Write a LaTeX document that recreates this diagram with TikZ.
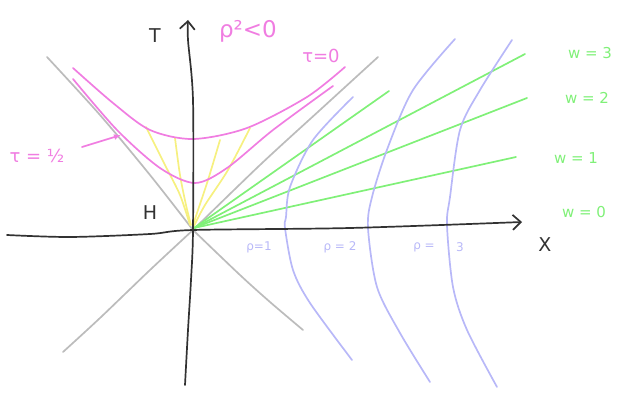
\documentclass[tikz,border=0pt]{standalone}
\usepackage{fontspec}
\setmainfont{DejaVu Sans}
\usetikzlibrary{arrows.meta}
\definecolor{pk}{RGB}{240,125,225}
\definecolor{gn}{RGB}{128,240,120}
\definecolor{yl}{RGB}{246,240,128}
\definecolor{bl}{RGB}{184,184,248}
\definecolor{gy}{RGB}{188,188,188}
\definecolor{ax}{RGB}{50,50,50}
\tikzset{
  sk/.style={line width=1.7pt, line cap=round, line join=round},
  gyline/.style={sk, gy},
  ylline/.style={sk, yl},
  gnline/.style={sk, gn},
  blline/.style={sk, bl},
  pkline/.style={sk, pk},
  axline/.style={sk, ax, -{Straight Barb[length=8pt,width=15pt,line width=1.7pt]}},
  pklab/.style={pk, font=\fontsize{18}{18}\selectfont},
  gnlab/.style={gn, font=\fontsize{15}{15}\selectfont},
  bllab/.style={bl, font=\fontsize{12}{12}\selectfont},
  axlab/.style={ax, font=\fontsize{19}{19}\selectfont},
}
\begin{document}
\begin{tikzpicture}[x=1pt,y=-1pt]
\useasboundingbox (0,0) rectangle (624,393);
\coordinate (O) at (193,230);
% light cone
\draw[gyline] plot[smooth] coordinates {(47,57) (100,115) (150,175) (O)};
\draw[gyline] plot[smooth] coordinates {(O) (240,275) (270,302) (303,330)};
\draw[gyline] plot[smooth] coordinates {(O) (260,165) (320,110) (378,57)};
\draw[gyline] plot[smooth] coordinates {(O) (150,270) (100,318) (63,352)};
% yellow
\draw[ylline] plot[smooth] coordinates {(146,127) (165,165) (180,195) (190,225)};
\draw[ylline] plot[smooth] coordinates {(175,138) (180,175) (186,205) (191,225)};
\draw[ylline] plot[smooth] coordinates {(220,140) (208,180) (198,210) (193,225)};
\draw[ylline] plot[smooth] coordinates {(250,128) (228,170) (205,205) (194,226)};
% green
\coordinate (G) at (194,228);
\coordinate (g1) at (389,91);
\coordinate (g2) at (525,54);
\coordinate (g3) at (527,98);
\coordinate (g4) at (516,157);
\draw[gnline] (G) -- (g1);
\draw[gnline] (G) -- (g2);
\draw[gnline] (G) -- (g3);
\draw[gnline] (G) -- (g4);
% blue
\draw[blline] plot[smooth] coordinates {(353,97) (313,140) (290,187) (286,217) (285,228) (293,270) (310,303) (352,360)};
\draw[blline] plot[smooth] coordinates {(455,39) (413,90) (388,147) (372,197) (368,228) (377,287) (400,333) (430,382)};
\draw[blline] plot[smooth] coordinates {(512,40) (480,90) (460,130) (450,197) (447,225) (453,287) (467,330) (497,387)};
% pink
\draw[pkline] plot[smooth] coordinates {(73,68) (113,103) (150,130) (193,139) (247,128) (307,97) (345,67)};
\draw[pkline] plot[smooth] coordinates {(73,79) (117,130) (160,168) (195,183) (227,168) (273,130) (333,86)};
% axes
\draw[axline] plot[smooth] coordinates {(7,235) (70,237) (150,234) (O) (350,228) (522,222)};
\draw[axline] plot[smooth] coordinates {(185,385) (188,330) (191,280) (O) (193,100) (188,40) (188,20)};
% labels
\node[axlab] (lT) at (155,36) {T};
\node[axlab] (lX) at (545,245) {X};
\node[axlab] (lH) at (150,213) {H};
\node[pklab, font=\fontsize{23}{23}\selectfont] (lrho) at (248,31) {ρ²<0};
\node[pklab] (ltau0) at (321,56) {τ=0};
\node[pklab] (ltauh) at (37,156) {τ = ½};
\coordinate (atip) at (121,135);
\draw[pkline, -{Latex[length=7pt,width=6pt]}] (82,147) -- (atip);
\node[gnlab] (w3) at (590,53) {w = 3};
\node[gnlab] (w2) at (587,98) {w = 2};
\node[gnlab] (w1) at (576,158) {w = 1};
\node[gnlab] (w0) at (584,212) {w = 0};
\node[bllab] (r1) at (259,247) {ρ=1};
\node[bllab] (r2) at (340,247) {ρ = 2};
\node[bllab] (r3) at (424,247) {ρ =};
\node[bllab] (r3b) at (460,247) {3};
\end{tikzpicture}
\end{document}
